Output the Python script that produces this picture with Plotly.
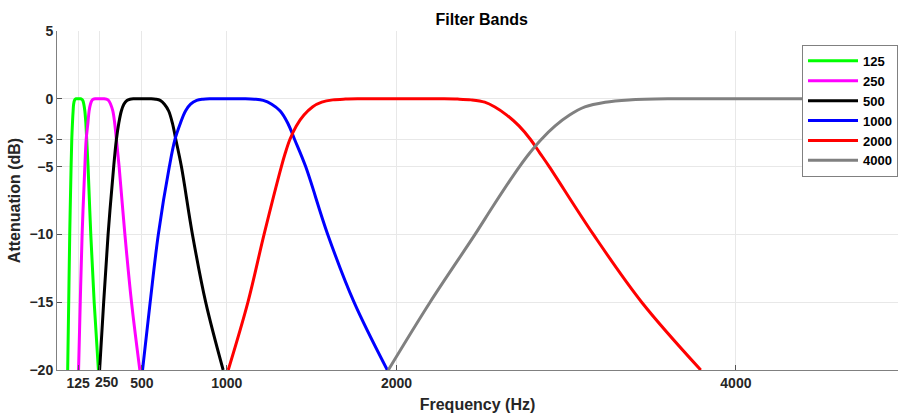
import plotly.graph_objects as go

# ---- data (frequency in Hz, attenuation in dB) ----
band_names = ["125", "250", "500", "1000", "2000", "4000"]
band_colors = ["#00ff00", "#ff00ff", "#000000", "#0000ff", "#ff0000", "#808080"]

f_125 = [63, 69, 75, 83, 87, 91, 95, 98, 103, 108, 113, 125, 139, 145, 152, 158, 164, 170, 175, 183, 199, 219, 244]
db_125 = [-20, -15, -10, -5, -3, -1.8, -0.9, -0.4, -0.12, -0.03, 0, 0, 0, -0.03, -0.12, -0.4, -0.9, -1.8, -3, -5, -10, -15, -20]

f_250 = [127, 137, 148, 164, 172, 182, 189, 197, 206, 215, 225, 250, 278, 291, 304, 316, 329, 340, 350, 366, 400, 439, 488]
db_250 = [-20, -15, -10, -5, -3, -1.8, -0.9, -0.4, -0.12, -0.03, 0, 0, 0, -0.03, -0.12, -0.4, -0.9, -1.8, -3, -5, -10, -15, -20]

f_500 = [251, 275, 301, 334, 350, 364, 379, 394, 412, 430, 450, 500, 555, 582, 608, 633, 658, 680, 700, 733, 798, 876, 979]
db_500 = [-20, -15, -10, -5, -3, -1.8, -0.9, -0.4, -0.12, -0.03, 0, 0, 0, -0.03, -0.12, -0.4, -0.9, -1.8, -3, -5, -10, -15, -20]

f_1000 = [504, 549, 597, 662, 695, 727, 757, 787, 823, 860, 900, 1000, 1110, 1163, 1215, 1265, 1315, 1360, 1400, 1465, 1595, 1750, 1946]
db_1000 = [-20, -15, -10, -5, -3, -1.8, -0.9, -0.4, -0.12, -0.03, 0, 0, 0, -0.03, -0.12, -0.4, -0.9, -1.8, -3, -5, -10, -15, -20]

f_2000 = [1009, 1125, 1220, 1322, 1345, 1372, 1410, 1455, 1505, 1560, 1625, 1700, 1780, 2000, 2270, 2360, 2440, 2520, 2580, 2650, 2722, 2790, 2845, 2900, 3160, 3445, 3793]
db_2000 = [-20, -15, -10, -5, -4, -3, -2, -1.2, -0.6, -0.25, -0.08, -0.02, 0, 0, 0, -0.02, -0.08, -0.25, -0.6, -1.2, -2, -3, -4, -5, -10, -15, -20]

f_4000 = [1952, 2198, 2463, 2565, 2670, 2725, 2785, 2853, 2935, 3020, 3110, 3230, 3370, 3600, 4000, 5000]
db_4000 = [-20, -15, -10, -8, -6, -5, -4, -3, -2, -1.2, -0.6, -0.25, -0.08, 0, 0, 0]

x_ticks = [125, 250, 500, 1000, 2000, 4000]
x_tick_text = ["125", "", "500", "1000", "2000", "4000"]
offset_label_value = 250
offset_label_text = "250"
y_ticks = [-20, -15, -10, -5, -3, 0, 5]
y_tick_text = ["\u221220", "\u221215", "\u221210", "\u22125", "\u22123", "0", "5"]

freqs = [f_125, f_250, f_500, f_1000, f_2000, f_4000]
dbs = [db_125, db_250, db_500, db_1000, db_2000, db_4000]

FONT = "Liberation Sans, Arial, Helvetica, sans-serif"

fig = go.Figure()
for name, color, fx, dy in zip(band_names, band_colors, freqs, dbs):
    fig.add_trace(go.Scatter(
        x=fx, y=dy, name=name, mode="lines",
        line=dict(color=color, width=3, shape="spline", smoothing=1.0),
    ))

# the "250" tick label sits slightly right of its tick in the reference
fig.add_annotation(
    x=offset_label_value, xref="x", y=0, yref="paper",
    text=offset_label_text, showarrow=False,
    xanchor="center", yanchor="top", xshift=8, yshift=-2,
    font=dict(family=FONT, size=14, weight="bold", color="#262626"),
)

fig.update_layout(
    width=898, height=413,
    margin=dict(l=57, r=0, t=31, b=43),
    paper_bgcolor="white", plot_bgcolor="white",
    font=dict(family=FONT, color="#262626"),
    title=dict(text="Filter Bands", x=0.505, xref="paper", xanchor="center",
               y=1 - 19 / 413, yref="container", yanchor="middle",
               font=dict(size=16, weight="bold", color="#000000")),
    showlegend=True,
    legend=dict(x=1.0, y=0.959, xanchor="right", yanchor="top",
                bgcolor="white", bordercolor="#808080", borderwidth=1,
                font=dict(size=13, weight="bold", color="#000000"),
                tracegroupgap=0, itemwidth=50),
)

fig.update_xaxes(
    range=[0, 4955], tickvals=x_ticks, ticktext=x_tick_text, tickangle=0,
    automargin=False,
    showgrid=True, gridcolor="#e8e8e8", gridwidth=1,
    showline=True, linecolor="#808080", linewidth=1,
    ticks="inside", ticklen=5, tickcolor="#555555",
    tickfont=dict(size=14, weight="bold", color="#262626"),
    title=dict(text="Frequency (Hz)", standoff=10,
               font=dict(size=16, weight="bold", color="#262626")),
    zeroline=False,
)
fig.update_yaxes(
    range=[-20, 5], tickvals=y_ticks, ticktext=y_tick_text,
    automargin=False,
    showgrid=True, gridcolor="#e8e8e8", gridwidth=1,
    showline=True, linecolor="#808080", linewidth=1,
    ticks="inside", ticklen=5, tickcolor="#555555",
    tickfont=dict(size=14, weight="bold", color="#262626"),
    title=dict(text="Attenuation (dB)", standoff=4,
               font=dict(size=16, weight="bold", color="#262626")),
    zeroline=False,
)

fig.write_html("out.html")
